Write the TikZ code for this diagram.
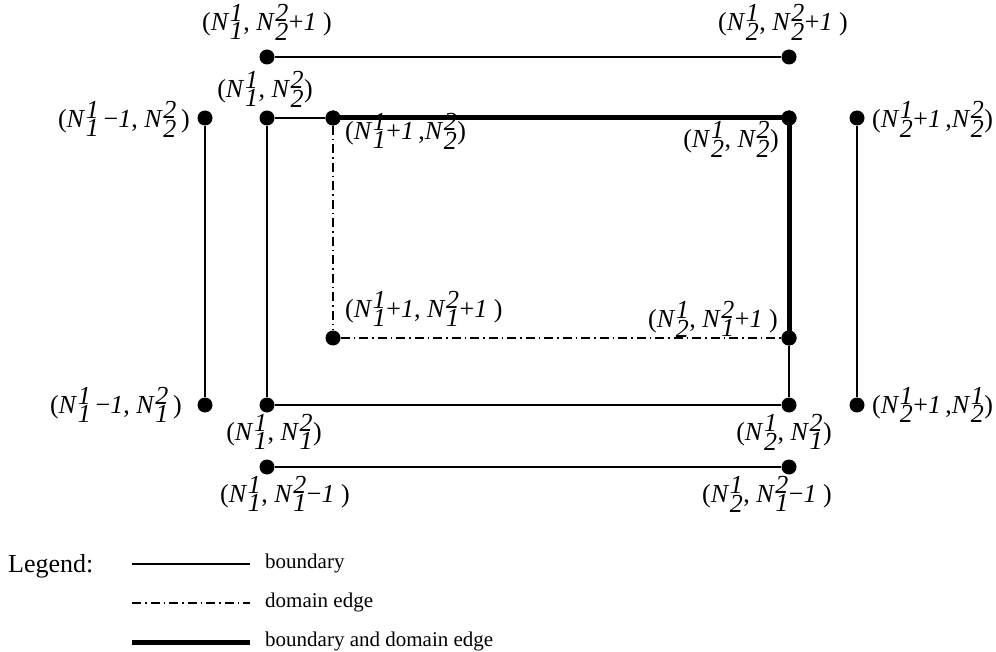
\documentclass[tikz,border=0pt]{standalone}
\usepackage{fontspec}
\setmainfont{Liberation Serif}
\newcommand\Nv[2]{\textit{N}\kern0.5pt$^{\textit{#2}}_{\textit{#1}}$}
\newcommand\one{\textit{1}}
\tikzset{
  pt/.style={circle,fill=black,inner sep=0pt,minimum size=15pt},
  lbl/.style={inner sep=0pt,font=\fontsize{26}{28}\selectfont},
  bnd/.style={line width=1.2pt},
  dom/.style={line width=1.2pt,dash pattern=on 9pt off 4pt on 1.5pt off 4pt},
  both/.style={line width=5pt},
  leg/.style={inner sep=0pt,anchor=west,font=\fontsize{21}{23}\selectfont}
}
\begin{document}
\begin{tikzpicture}[x=1pt,y=-1pt]
\useasboundingbox (0,0) rectangle (996,652);
% points
\node[pt] (a1) at (267,57) {};
\node[pt] (a2) at (789,57) {};
\node[pt] (b0) at (205,118) {};
\node[pt] (b1) at (267,118) {};
\node[pt] (b2) at (333,118) {};
\node[pt] (b3) at (789,118) {};
\node[pt] (b4) at (857,118) {};
\node[pt] (c2) at (333,338) {};
\node[pt] (c3) at (789,338) {};
\node[pt] (d0) at (205,405) {};
\node[pt] (d1) at (267,405) {};
\node[pt] (d3) at (789,405) {};
\node[pt] (d4) at (857,405) {};
\node[pt] (e1) at (267,467) {};
\node[pt] (e2) at (789,467) {};
% connectors
\draw[bnd] (a1) -- (a2);
\draw[bnd] (e1) -- (e2);
\draw[bnd] (b0) -- (d0);
\draw[bnd] (b4) -- (d4);
\draw[bnd] (b1) -- (b2);
\draw[bnd] (b1) -- (d1);
\draw[bnd] (d1) -- (d3);
\draw[bnd] (c3) -- (d3);
\draw[dom] (b2) -- (c2);
\draw[dom] (c2) -- (c3);
\draw[both] (b2.center) -- (b3.center) -- (c3.center);
\node[pt] at (b2) {};
\node[pt] at (b3) {};
\node[pt] at (c3) {};
% labels
\node[lbl] (la1) at (267,22) {(\Nv{1}{1}, \Nv{2}{2}+\one\ )};
\node[lbl] (la2) at (783,22) {(\Nv{2}{1}, \Nv{2}{2}+\one\ )};
\node[lbl] (lb1) at (265,89) {(\Nv{1}{1}, \Nv{2}{2})};
\node[lbl,anchor=east] (lb0) at (190,119) {(\Nv{1}{1}\,−\one, \Nv{2}{2}\,)};
\node[lbl,anchor=west] (lb2) at (345,131) {(\Nv{1}{1}+\one\,,\Nv{2}{2})};
\node[lbl] (lb3) at (731,139) {(\Nv{2}{1}, \Nv{2}{2})};
\node[lbl,anchor=west] (lb4) at (872,119) {(\Nv{2}{1}+\one\,,\Nv{2}{2})};
\node[lbl,anchor=west] (lc2) at (345,309) {(\Nv{1}{1}+\one, \Nv{1}{2}+\one\ )};
\node[lbl,anchor=east] (lc3) at (778,319) {(\Nv{2}{1}, \Nv{1}{2}+\one\ )};
\node[lbl,anchor=east] (ld0) at (182,405) {(\Nv{1}{1}\,−\one, \Nv{1}{2}\,)};
\node[lbl] (ld1) at (274,432) {(\Nv{1}{1}, \Nv{1}{2})};
\node[lbl] (ld3) at (784,432) {(\Nv{2}{1}, \Nv{1}{2})};
\node[lbl,anchor=west] (ld4) at (872,405) {(\Nv{2}{1}+\one\,,\Nv{2}{1})};
\node[lbl] (le1) at (285,494) {(\Nv{1}{1}, \Nv{1}{2}−\one\ )};
\node[lbl] (le2) at (767,494) {(\Nv{2}{1}, \Nv{1}{2}−\one\ )};
% legend
\node[inner sep=0pt,anchor=west,font=\fontsize{26}{28}\selectfont] (legt) at (8,566) {Legend:};
\coordinate (l1a) at (132,564); \coordinate (l1b) at (250,564);
\coordinate (l2a) at (132,603); \coordinate (l2b) at (250,603);
\coordinate (l3a) at (132,642); \coordinate (l3b) at (250,642);
\draw[bnd] (l1a) -- (l1b);
\draw[dom] (l2a) -- (l2b);
\draw[both] (l3a) -- (l3b);
\node[leg] (t1) at (265,563) {boundary};
\node[leg] (t2) at (265,602) {domain edge};
\node[leg] (t3) at (265,641) {boundary and domain edge};
\end{tikzpicture}
\end{document}
